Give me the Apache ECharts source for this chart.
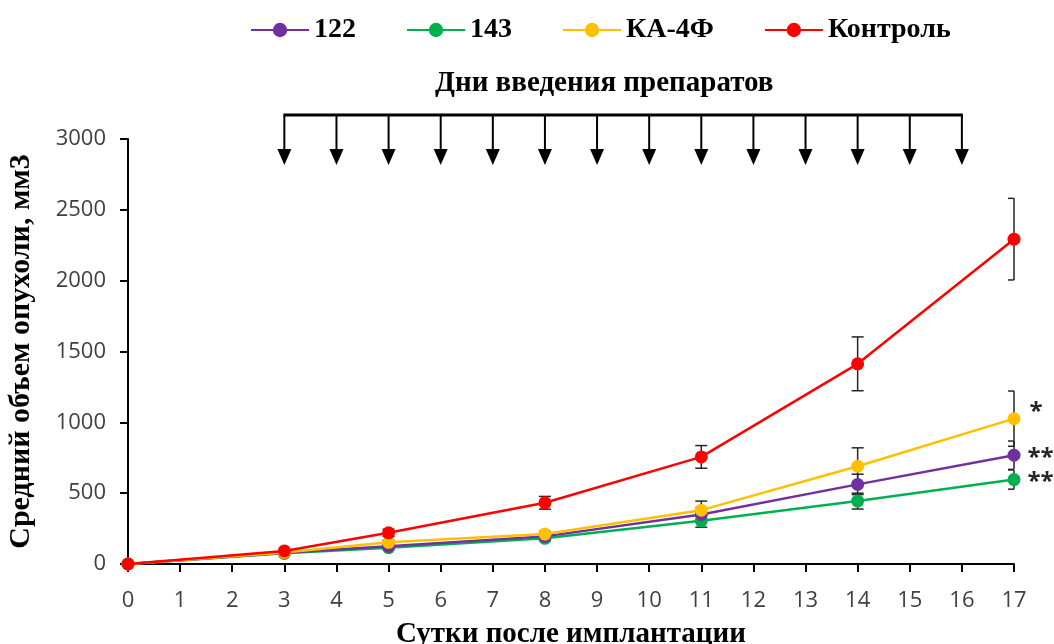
<!DOCTYPE html>
<html><head><meta charset="utf-8">
<script src="https://cdn.jsdelivr.net/npm/echarts@6/dist/echarts.min.js"></script>
<style>html,body{margin:0;padding:0;background:#fff}#c{width:1054px;height:644px}</style>
</head><body><div id="c"></div>
<script>
// ---- data ----
const days = [0, 3, 5, 8, 11, 14, 17];
const s122 = [0, 80, 125, 195, 350, 562, 768];
const s122Err = [0, 8, 12, 18, 45, 72, 100];
const s143 = [0, 75, 115, 181, 305, 444, 596];
const s143Err = [0, 8, 12, 18, 45, 56, 68];
const ka4f = [0, 82, 153, 211, 380, 690, 1026];
const ka4fErr = [0, 8, 15, 20, 64, 130, 195];
const control = [0, 92, 220, 432, 756, 1413, 2293];
const controlErr = [0, 10, 25, 45, 80, 190, 288];
const dosingDays = [3, 4, 5, 6, 7, 8, 9, 10, 11, 12, 13, 14, 15, 16];
const xTickLabels = ['0','1','2','3','4','5','6','7','8','9','10','11','12','13','14','15','16','17'];
const yTickLabels = ['0','500','1000','1500','2000','2500','3000'];
const seriesNames = ['122', '143', 'КА-4Ф', 'Контроль'];
const signif = ['**', '**', '*', ''];

// ---- styling ----
const colors = ['#7030A0', '#00B050', '#FFC000', '#FF0000'];
const serif = '"Liberation Serif", "Times New Roman", serif';
const sans = '"Open Sans", "Liberation Sans", sans-serif';
const arrowTop = 3169, arrowTip = 2817;

const groups = [
  {name: seriesNames[0], vals: s122, err: s122Err, color: colors[0], mark: signif[0], z: 4},
  {name: seriesNames[1], vals: s143, err: s143Err, color: colors[1], mark: signif[1], z: 3},
  {name: seriesNames[2], vals: ka4f, err: ka4fErr, color: colors[2], mark: signif[2], z: 5},
  {name: seriesNames[3], vals: control, err: controlErr, color: colors[3], mark: signif[3], z: 6}
];

function errRender(params, api) {
  const x = api.value(0), lo = api.value(1), hi = api.value(2);
  if (hi - lo <= 0) return null;
  const t = api.coord([x, hi]), b = api.coord([x, lo]);
  const cs = params.coordSys;
  const right = cs.x + cs.width;
  const w = 6, st = {stroke: '#262626', lineWidth: 1.5};
  const xr = Math.min(t[0] + w, right);
  return {type: 'group', children: [
    {type: 'line', shape: {x1: t[0], y1: t[1], x2: b[0], y2: b[1]}, style: st},
    {type: 'line', shape: {x1: t[0] - w, y1: t[1], x2: xr, y2: t[1]}, style: st},
    {type: 'line', shape: {x1: b[0] - w, y1: b[1], x2: xr, y2: b[1]}, style: st}
  ]};
}

function arrowRender(params, api) {
  const d = api.value(0);
  const p1 = api.coord([d, arrowTop]), p2 = api.coord([d, arrowTip]);
  const children = [
    {type: 'line', shape: {x1: p1[0], y1: p1[1], x2: p1[0], y2: p2[1] - 12}, style: {stroke: '#000', lineWidth: 2}},
    {type: 'polygon', shape: {points: [[p1[0] - 7, p2[1] - 16], [p1[0] + 7, p2[1] - 16], [p1[0], p2[1]]]}, style: {fill: '#000'}}
  ];
  if (params.dataIndex === 0) {
    const q = api.coord([dosingDays[dosingDays.length - 1], arrowTop]);
    children.push({type: 'line', shape: {x1: p1[0] - 1, y1: p1[1], x2: q[0] + 1, y2: q[1]}, style: {stroke: '#000', lineWidth: 3}});
  }
  return {type: 'group', children};
}

const series = [];
groups.forEach(g => {
  series.push({
    type: 'custom', name: g.name + '_err', renderItem: errRender, clip: false, z: 1,
    data: days.map((d, i) => [d, g.vals[i] - g.err[i], g.vals[i] + g.err[i]]),
    silent: true
  });
});
groups.forEach(g => {
  series.push({
    type: 'line', name: g.name, z: g.z,
    data: days.map((d, i) => {
      const item = {value: [d, g.vals[i]]};
      if (i === days.length - 1 && g.mark) {
        item.label = {show: true, position: 'right', distance: 7, formatter: g.mark,
          fontSize: 24, fontWeight: 'bold', color: '#262626', fontFamily: sans,
          offset: g.mark === '*' ? [2, -6] : [0, 3]};
      }
      return item;
    }),
    symbol: 'circle', symbolSize: 13,
    lineStyle: {color: g.color, width: 2.5},
    itemStyle: {color: g.color},
    emphasis: {disabled: true},
    animation: false
  });
});
series.push({
  type: 'custom', name: 'dosing', renderItem: arrowRender, clip: false, z: 10,
  data: dosingDays.map(d => [d]), silent: true
});

const chart = echarts.init(document.getElementById('c'), null, {renderer: 'canvas'});
chart.setOption({
  animation: false,
  backgroundColor: '#fff',
  title: {
    text: 'Дни введения препаратов', left: 430, top: 64,
    textStyle: {fontFamily: serif, fontWeight: 'bold', fontSize: 29, color: '#000'}
  },
  legend: {
    data: seriesNames, left: 245, top: 11, itemWidth: 58, itemHeight: 18, itemGap: 50,
    textStyle: {fontFamily: serif, fontWeight: 'bold', fontSize: 28, color: '#000'}
  },
  grid: {left: 128, right: 40, top: 139, bottom: 80, containLabel: false, outerBoundsMode: 'none'},
  xAxis: {
    type: 'value', min: 0, max: 17, interval: 1,
    name: 'Сутки после имплантации', nameLocation: 'middle', nameGap: 56,
    nameTextStyle: {fontFamily: serif, fontWeight: 'bold', fontSize: 29, color: '#000'},
    axisLine: {show: true, lineStyle: {color: '#000', width: 2}},
    axisTick: {show: true, length: 8, lineStyle: {color: '#000', width: 2}},
    axisLabel: {margin: 26, fontFamily: sans, fontSize: 22, color: '#404040',
      formatter: v => xTickLabels[v]},
    splitLine: {show: false}
  },
  yAxis: {
    type: 'value', min: 0, max: 3000, interval: 500,
    name: 'Средний объем опухоли, мм3', nameLocation: 'middle', nameGap: 92, nameRotate: 90,
    nameTextStyle: {fontFamily: serif, fontWeight: 'bold', fontSize: 30, color: '#000'},
    axisLine: {show: true, lineStyle: {color: '#000', width: 2}},
    axisTick: {show: true, length: 8, lineStyle: {color: '#000', width: 2}},
    axisLabel: {margin: 22, fontFamily: sans, fontSize: 22, color: '#404040',
      formatter: v => yTickLabels[v / 500]},
    splitLine: {show: false}
  },
  series
});
</script>
</body></html>
